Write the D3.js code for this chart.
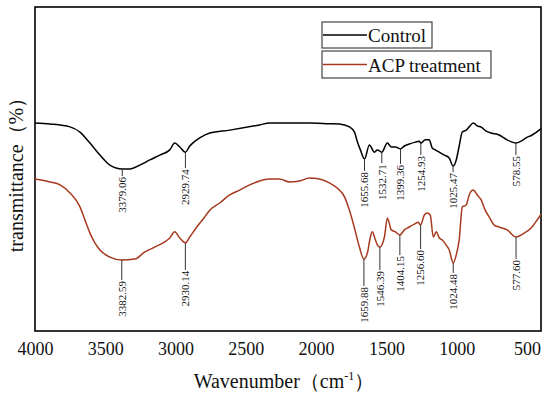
<!DOCTYPE html>
<html>
<head>
<meta charset="utf-8">
<script src="https://cdn.jsdelivr.net/npm/d3@7/dist/d3.min.js"></script>
<style>
  html, body { margin: 0; padding: 0; background: #fff; }
  svg { display: block; }
  text { font-family: "Liberation Serif", "Times New Roman", serif; fill: #111; }
</style>
</head>
<body>
<svg id="chart" width="550" height="393"></svg>
<script>
// ---- data (wavenumber cm-1, relative transmittance) ----
const controlWn = [4000, 3893, 3751, 3680, 3609, 3538, 3467, 3379.06, 3325, 3254, 3183, 3112, 3041, 3006, 2970, 2929.74, 2899, 2878, 2828, 2757, 2615, 2402, 2331, 2189, 2047, 1905, 1834, 1763, 1727, 1706, 1685, 1655.68, 1621, 1585, 1564, 1532.71, 1493, 1465, 1436, 1399.36, 1372, 1337, 1294, 1266, 1254.93, 1223, 1195, 1174, 1152, 1124, 1088, 1053, 1025.47, 1003, 982, 960, 932, 911, 882, 854, 825, 790, 754, 698, 641, 605, 578.55, 541, 506, 463, 413, 400];
const controlT  = [64.2, 63.9, 63.0, 61.4, 58.0, 54.3, 51.2, 50.0, 50.0, 51.2, 52.8, 54.3, 55.9, 58.0, 56.8, 55.2, 57.1, 58.0, 59.6, 61.1, 62.0, 63.6, 64.2, 64.2, 64.2, 64.0, 63.9, 63.0, 61.4, 58.3, 55.9, 53.1, 57.4, 55.2, 55.9, 55.2, 58.0, 56.8, 56.8, 56.2, 57.1, 57.7, 58.3, 58.6, 58.0, 59.0, 59.0, 56.5, 55.9, 55.2, 54.3, 53.4, 50.9, 52.8, 57.1, 61.4, 62.0, 63.0, 64.2, 63.3, 62.9, 61.7, 61.1, 60.5, 59.0, 58.3, 58.0, 58.6, 59.6, 60.5, 62.0, 62.5];

const acpWn = [4000, 3893, 3822, 3751, 3680, 3645, 3609, 3574, 3538, 3467, 3382.59, 3290, 3219, 3148, 3077, 3041, 3006, 2970, 2930.14, 2899, 2849, 2793, 2757, 2686, 2615, 2544, 2473, 2402, 2331, 2260, 2189, 2118, 2047, 1976, 1905, 1834, 1798, 1763, 1727, 1692, 1659.88, 1635, 1614, 1600, 1578, 1564, 1546.39, 1514, 1493, 1465, 1436, 1404.15, 1372, 1337, 1301, 1273, 1256.60, 1230, 1209, 1188, 1166, 1145, 1124, 1102, 1074, 1053, 1024.48, 1003, 982, 960, 932, 911, 882, 854, 825, 797, 769, 733, 698, 641, 577.60, 520, 470, 413, 400];
const acpT  = [46.9, 46.0, 45.1, 42.6, 38.3, 34.3, 30.2, 27.2, 25.0, 22.8, 21.9, 22.2, 24.4, 25.9, 27.5, 28.7, 30.6, 28.7, 27.2, 29.0, 32.1, 35.2, 37.3, 39.5, 42.0, 43.5, 45.1, 46.3, 46.9, 46.9, 46.0, 46.3, 47.2, 46.9, 45.7, 43.5, 41.4, 37.3, 31.8, 25.9, 22.2, 24.1, 29.0, 30.6, 28.1, 26.5, 25.9, 29.0, 34.9, 31.2, 30.6, 29.6, 31.2, 32.1, 33.0, 33.6, 32.7, 35.8, 36.4, 35.8, 29.0, 30.6, 28.7, 28.1, 26.5, 25.0, 21.0, 23.5, 28.1, 38.3, 38.9, 42.0, 43.5, 42.0, 40.4, 37.3, 35.2, 32.7, 32.1, 31.2, 29.0, 30.2, 31.8, 35.2, 36.0];

const controlPeaks = [3379.06, 2929.74, 1655.68, 1532.71, 1399.36, 1254.93, 1025.47, 578.55];
const controlPeakLabels = ["3379.06", "2929.74", "1655.68", "1532.71", "1399.36", "1254.93", "1025.47", "578.55"];
const controlLeader = [7, 16, 12, 11, 15, 12, 6, 12];

const acpPeaks = [3382.59, 2930.14, 1659.88, 1546.39, 1404.15, 1256.60, 1024.48, 577.60];
const acpPeakLabels = ["3382.59", "2930.14", "1659.88", "1546.39", "1404.15", "1256.60", "1024.48", "577.60"];
const acpLeader = [20, 27, 27, 23, 20, 24, 10, 22];

const xTicks = [4000, 3500, 3000, 2500, 2000, 1500, 1000, 500];
const seriesNames = ["Control", "ACP treatment"];
const seriesColors = ["#000000", "#a8391f"];

// ---- layout ----
const svg = d3.select("#chart");
const L = 35, R = 541, T = 7, B = 331;
const x = d3.scaleLinear().domain([4000, 400]).range([L, R]);
const y = d3.scaleLinear().domain([0, 100]).range([B, T]);

// frame
svg.append("rect").attr("x", L).attr("y", T).attr("width", R - L).attr("height", B - T)
  .attr("fill", "none").attr("stroke", "#000").attr("stroke-width", 1.6);

// x axis labels
const ax = svg.append("g").attr("transform", `translate(0,${B})`)
  .call(d3.axisBottom(x).tickValues(xTicks).tickSize(0).tickPadding(11).tickFormat(d3.format("d")));
ax.select(".domain").remove();
ax.selectAll("text").style("font-family", '"Liberation Serif", "Times New Roman", serif')
  .style("font-size", "18px").attr("fill", "#111");

// curves
const line = d3.line().x(d => x(d[0])).y(d => y(d[1])).curve(d3.curveMonotoneX);
const series = [
  { wn: controlWn, t: controlT, peaks: controlPeaks, labels: controlPeakLabels, leader: controlLeader },
  { wn: acpWn, t: acpT, peaks: acpPeaks, labels: acpPeakLabels, leader: acpLeader }
];
series.forEach((s, i) => {
  const pts = s.wn.map((w, k) => [w, s.t[k]]);
  svg.append("path").datum(pts).attr("d", line)
    .attr("fill", "none").attr("stroke", seriesColors[i]).attr("stroke-width", 1.5)
    .attr("stroke-linejoin", "round");
  // peak annotations
  s.peaks.forEach((p, k) => {
    const idx = s.wn.indexOf(p);
    const y0 = y(s.t[idx]);
    const y1 = y0 + s.leader[k];
    svg.append("line").attr("x1", x(p)).attr("x2", x(p)).attr("y1", y0).attr("y2", y1)
      .attr("stroke", "#333").attr("stroke-width", 1);
    svg.append("text")
      .attr("transform", `translate(${x(p)},${y1 + 1}) rotate(-90)`)
      .attr("text-anchor", "end").attr("dy", "0.35em")
      .style("font-size", "11px").text(s.labels[k]);
  });
});

// legend
const legendBoxes = [
  { x: 322, y: 22, w: 110, h: 26 },
  { x: 322, y: 51, w: 169, h: 27 }
];
seriesNames.forEach((name, i) => {
  const b = legendBoxes[i];
  svg.append("rect").attr("x", b.x).attr("y", b.y).attr("width", b.w).attr("height", b.h)
    .attr("fill", "#fff").attr("stroke", "#444").attr("stroke-width", 1.2);
  svg.append("line").attr("x1", b.x + 1).attr("x2", b.x + 45).attr("y1", b.y + b.h / 2).attr("y2", b.y + b.h / 2)
    .attr("stroke", seriesColors[i]).attr("stroke-width", 1.5);
  svg.append("text").attr("x", b.x + 46).attr("y", b.y + b.h / 2 + 7)
    .style("font-size", "19px").text(name);
});

// axis titles
const xt = svg.append("text").attr("x", 284).attr("y", 388).attr("text-anchor", "middle")
  .style("font-size", "20px");
xt.append("tspan").text("Wavenumber（cm");
xt.append("tspan").attr("dy", "-8").style("font-size", "12px").text("-1");
xt.append("tspan").attr("dy", "8").text("）");

svg.append("text").attr("transform", "translate(23,170) rotate(-90)")
  .attr("text-anchor", "middle").style("font-size", "20px").text("transmittance（%）");
</script>
</body>
</html>
